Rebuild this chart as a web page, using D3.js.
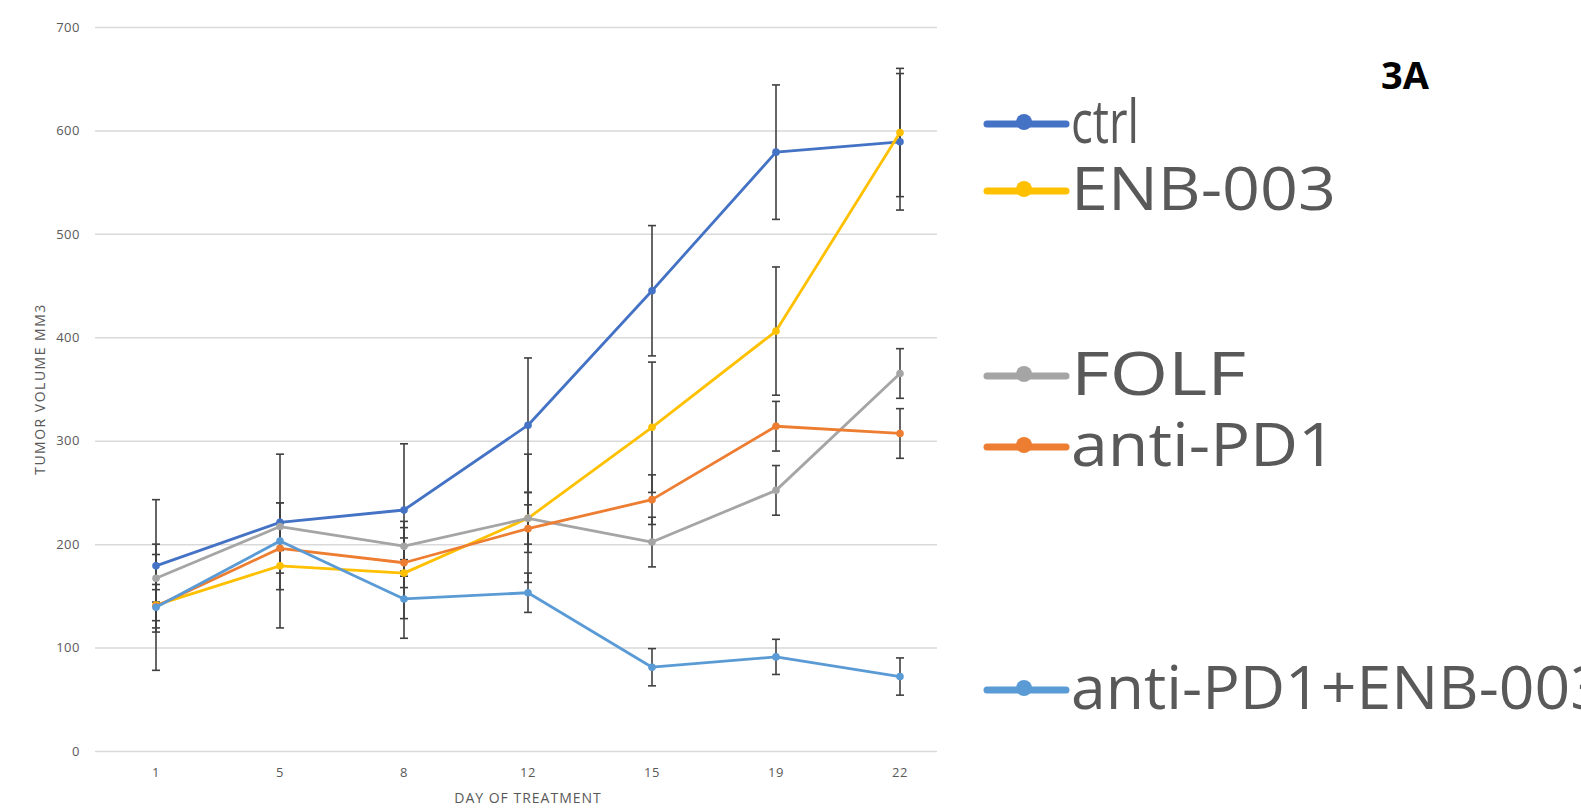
<!DOCTYPE html>
<html>
<head>
<meta charset="utf-8">
<script src="https://cdn.jsdelivr.net/npm/d3@7"></script>
<style>
  body { margin: 0; background: #fff; }
  svg { display: block; }
</style>
</head>
<body>
<script>
const days = ["1", "5", "8", "12", "15", "19", "22"];
const yTicks = [0, 100, 200, 300, 400, 500, 600, 700];

const seriesNames = ["ctrl", "ENB-003", "FOLF", "anti-PD1", "anti-PD1+ENB-003"];
const seriesColors = ["#4472C4", "#FFC000", "#A5A5A5", "#ED7D31", "#5B9BD5"];

const ctrlValues   = [179, 221, 233, 315, 445, 579, 589];
const enbValues    = [141, 179, 172, 225, 313, 406, 598];
const folfValues   = [167, 217, 198, 225, 202, 252, 365];
const pd1Values    = [140, 196, 182, 215, 243, 314, 307];
const comboValues  = [139, 203, 147, 153, 81, 91, 72];

const ctrlErr  = [64, 19, 64, 65, 63, 65, 66];
const enbErr   = [15, 23, 44, 62, 63, 62, 62];
const folfErr  = [23, 23, 24, 25, 24, 24, 24];
const pd1Err   = [21, 24, 24, 23, 24, 24, 24];
const comboErr = [61, 84, 38, 19, 18, 17, 18];

const allValues = [ctrlValues, enbValues, folfValues, pd1Values, comboValues];
const allErrors = [ctrlErr, enbErr, folfErr, pd1Err, comboErr];

const W = 1581, H = 808;
const textColor = "#595959";
const font = "'Open Sans', sans-serif";

const svg = d3.select("body").append("svg")
    .attr("width", W)
    .attr("height", H);

const x = d3.scaleBand()
    .domain(days)
    .range([94, 962]);

const y = d3.scaleLinear()
    .domain([0, 700])
    .range([751, 27]);

const gridRight = 937;

// y axis with gridlines
const yAxis = svg.append("g")
    .attr("transform", "translate(95,0)")
    .call(d3.axisLeft(y).tickValues(yTicks).tickSizeInner(-(gridRight - 95)).tickSizeOuter(0).tickPadding(15));
yAxis.select(".domain").remove();
yAxis.selectAll(".tick line")
    .attr("stroke", "#d9d9d9")
    .attr("stroke-width", 1.5);
yAxis.selectAll(".tick text")
    .attr("fill", textColor)
    .style("font-family", font)
    .style("font-size", "13px")
    .style("letter-spacing", "0.5px");

// x axis
const xAxis = svg.append("g")
    .attr("transform", "translate(0,751)")
    .call(d3.axisBottom(x).tickSize(0).tickPadding(17));
xAxis.select(".domain").remove();
xAxis.selectAll(".tick text")
    .attr("fill", textColor)
    .style("font-family", font)
    .style("font-size", "13px")
    .style("letter-spacing", "0.5px");

// axis titles
svg.append("text")
    .attr("x", 528)
    .attr("y", 803)
    .attr("text-anchor", "middle")
    .attr("fill", textColor)
    .style("font-family", font)
    .style("font-size", "14px")
    .style("letter-spacing", "1px")
    .text("DAY OF TREATMENT");

svg.append("text")
    .attr("transform", "translate(45,389) rotate(-90)")
    .attr("text-anchor", "middle")
    .attr("fill", textColor)
    .style("font-family", font)
    .style("font-size", "14px")
    .style("letter-spacing", "1.5px")
    .text("TUMOR VOLUME MM3");

const cx = d => x(d) + x.bandwidth() / 2;

// error bars
const errColor = "#404040";
allValues.forEach((vals, s) => {
    const g = svg.append("g");
    days.forEach((d, i) => {
        const v = vals[i], e = allErrors[s][i];
        g.append("line")
            .attr("x1", cx(d)).attr("x2", cx(d))
            .attr("y1", y(v + e)).attr("y2", y(v - e))
            .attr("stroke", errColor).attr("stroke-width", 1.6);
        [v + e, v - e].forEach(c => {
            g.append("line")
                .attr("x1", cx(d) - 4).attr("x2", cx(d) + 4)
                .attr("y1", y(c)).attr("y2", y(c))
                .attr("stroke", errColor).attr("stroke-width", 1.6);
        });
    });
});

// lines and markers
const line = d3.line()
    .x((v, i) => cx(days[i]))
    .y(v => y(v));

allValues.forEach((vals, s) => {
    svg.append("path")
        .datum(vals)
        .attr("fill", "none")
        .attr("stroke", seriesColors[s])
        .attr("stroke-width", 2.8)
        .attr("stroke-linejoin", "round")
        .attr("d", line);
    svg.append("g").selectAll("circle")
        .data(vals)
        .join("circle")
        .attr("cx", (v, i) => cx(days[i]))
        .attr("cy", v => y(v))
        .attr("r", 3.8)
        .attr("fill", seriesColors[s]);
});

// legend (condensed text, as in the pasted legend image; last entry runs off the edge)
const legendY = [124, 191, 376, 447, 690];
const legendWidths = [68, 265, 175, 265, 535];
const legend = svg.append("g");
seriesNames.forEach((name, i) => {
    const g = legend.append("g").attr("transform", `translate(0,${legendY[i]})`);
    g.append("line")
        .attr("x1", 987).attr("x2", 1066)
        .attr("y1", 0).attr("y2", 0)
        .attr("stroke", seriesColors[i])
        .attr("stroke-width", 7)
        .attr("stroke-linecap", "round");
    g.append("circle")
        .attr("cx", 1024).attr("cy", -2)
        .attr("r", 8)
        .attr("fill", seriesColors[i]);
    g.append("text")
        .attr("x", 1071)
        .attr("y", 19)
        .attr("textLength", legendWidths[i])
        .attr("lengthAdjust", "spacingAndGlyphs")
        .attr("fill", textColor)
        .style("font-family", font)
        .style("font-size", "60px")
        .text(name);
});

svg.append("text")
    .attr("x", 1405)
    .attr("y", 89)
    .attr("text-anchor", "middle")
    .attr("fill", "#000")
    .style("font-family", font)
    .style("font-weight", "bold")
    .style("font-size", "38px")
    .text("3A");
</script>
</body>
</html>
